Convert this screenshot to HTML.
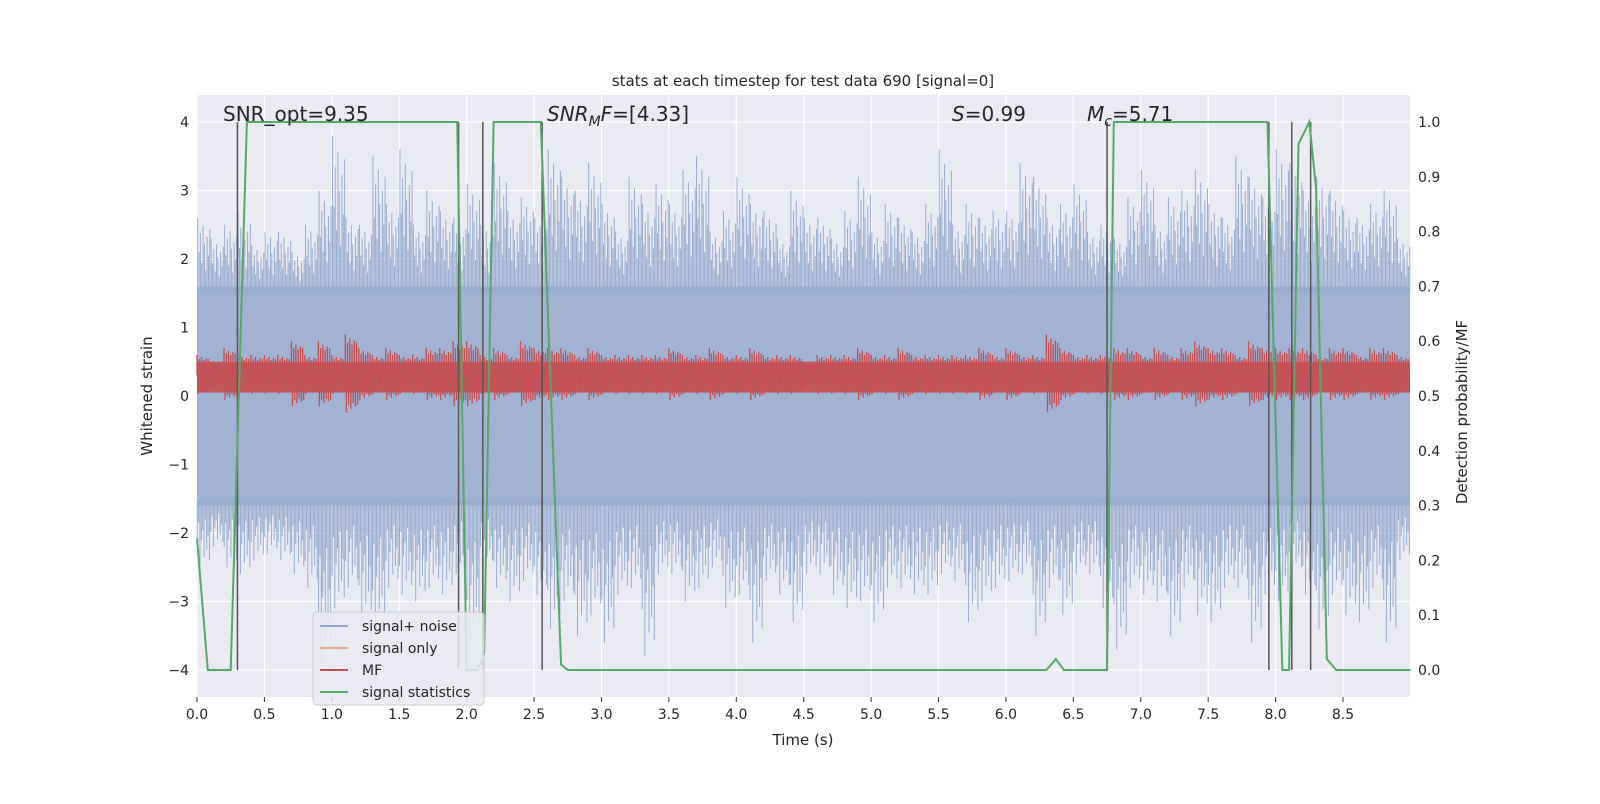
<!DOCTYPE html>
<html><head><meta charset="utf-8"><style>
body{margin:0;background:#fff;font-family:"DejaVu Sans","Liberation Sans",sans-serif}
svg text{font-family:"DejaVu Sans","Liberation Sans",sans-serif;fill:#262626}
</style></head><body>
<svg id="c" width="1600" height="800"></svg>
<script>
const noiseUpper=[2.6,2.3,2.5,2.7,2.2,2.4,2.4,2.1,2.5,3.0,3.8,2.6,2.5,3.5,2.8,3.6,2.5,3.0,2.7,2.6,3.1,2.5,3.4,2.7,2.9,2.6,3.6,3.2,3.0,3.4,2.8,2.4,3.2,2.8,3.1,2.8,3.3,3.5,2.4,2.7,3.2,2.8,2.7,2.3,3.0,2.6,2.6,2.3,2.7,3.2,2.4,2.8,2.6,2.4,2.8,3.6,2.5,2.8,2.6,2.7,2.7,3.4,3.2,2.6,2.8,3.1,2.4,2.5,2.3,2.9,3.3,2.5,2.9,3.0,3.3,2.8,2.6,3.5,3.2,2.9,3.6,3.4,3.0,3.2,3.0,2.7,2.6,2.8,3.0,2.3];
const noiseLower=[-2.5,-2.2,-2.5,-2.6,-2.4,-2.3,-2.4,-2.6,-2.8,-3.9,-3.1,-2.8,-3.3,-3.4,-2.8,-2.9,-3.0,-2.8,-2.9,-2.6,-3.6,-2.5,-2.8,-3.0,-2.7,-2.9,-3.4,-3.0,-3.5,-3.2,-3.6,-2.9,-2.8,-3.8,-2.6,-2.6,-3.0,-2.8,-2.5,-3.1,-2.9,-3.6,-2.7,-2.9,-3.3,-2.6,-2.6,-2.9,-3.1,-3.0,-3.3,-2.8,-2.8,-2.9,-2.9,-2.6,-2.7,-3.3,-3.0,-2.8,-2.7,-2.6,-3.5,-2.8,-3.2,-2.6,-2.6,-3.1,-3.7,-2.8,-2.9,-3.0,-3.5,-2.8,-3.2,-3.3,-2.8,-2.8,-3.6,-2.9,-3.0,-2.6,-2.9,-3.4,-2.9,-3.2,-3.3,-2.8,-3.6,-2.4];
const mfUpper=[0.6,0.5,0.7,0.6,0.6,0.6,0.6,0.8,0.6,0.8,0.6,0.9,0.7,0.6,0.7,0.6,0.6,0.7,0.7,0.8,0.8,0.6,0.7,0.6,0.8,0.7,0.7,0.7,0.6,0.7,0.6,0.6,0.6,0.6,0.6,0.7,0.6,0.6,0.7,0.6,0.6,0.7,0.6,0.6,0.6,0.5,0.6,0.6,0.6,0.7,0.6,0.6,0.7,0.6,0.6,0.6,0.6,0.6,0.7,0.6,0.7,0.6,0.6,0.9,0.7,0.6,0.6,0.6,0.7,0.7,0.6,0.7,0.6,0.7,0.8,0.7,0.7,0.6,0.8,0.7,0.7,0.7,0.7,0.6,0.7,0.7,0.6,0.7,0.7,0.6];
const statT=[0,0.08,0.25,0.37,1.93,2.0,2.08,2.13,2.2,2.55,2.7,2.75,2.9,6.3,6.37,6.43,6.75,6.8,7.94,8.05,8.1,8.17,8.25,8.3,8.38,8.45,9.0];
const statP=[0.24,0,0,1,1,0,0,0.03,1,1,0.01,0,0,0,0.02,0,0,1,1,0,0,0.96,1,0.88,0.02,0,0];
const vlines=[0.30,1.94,2.12,2.56,6.75,7.95,8.12,8.26];
const xTicks=[0,0.5,1,1.5,2,2.5,3,3.5,4,4.5,5,5.5,6,6.5,7,7.5,8,8.5];
const yTicks=[-4,-3,-2,-1,0,1,2,3,4];
const y2Ticks=[0,0.1,0.2,0.3,0.4,0.5,0.6,0.7,0.8,0.9,1.0];

const L=197,R=1410,T=95,B=697;
const X=t=>L+t*(1343-197)/8.5;
const Y=v=>396-v*68.5;
const Y2=p=>670-p*548;
const svg=document.getElementById('c');const NS='http://www.w3.org/2000/svg';
function mk(tag,at,name,parent){const e=document.createElementNS(NS,tag);for(const k in at)e.setAttribute(k,at[k]);


(parent||svg).appendChild(e);return e;}
mk('rect',{x:L,y:T,width:R-L,height:B-T,fill:'#eaeaf2'},'plot-background');
const grid=mk('g',{stroke:'#fff','stroke-width':1.2},'grid');
xTicks.forEach(t=>mk('line',{x1:X(t),x2:X(t),y1:T,y2:B},'x-grid-line',grid));
yTicks.forEach(v=>mk('line',{x1:L,x2:R,y1:Y(v),y2:Y(v)},'y-grid-line',grid));
const ng=mk('g',{stroke:'#8fa5cc','stroke-width':1,opacity:0.9},'noise-series');
mk('rect',{x:L,y:Y(1.6),width:R-L,height:Y(-1.6)-Y(1.6),fill:'#9aadd0',stroke:'none'},'noise-core',ng);
const bw=0.1;
const fu=[1,0.55,0.8,0.4,0.9,0.65,0.3,0.75,0.5,0.85];
const fl=[0.7,0.35,1,0.6,0.45,0.85,0.3,0.75,0.55,0.9];
noiseUpper.forEach((u,i)=>{for(let k=0;k<10;k++){const t=i*bw+k*bw/10+0.005;
mk('line',{x1:X(t),x2:X(t),y1:Y(1.5),y2:Y(1.5+(u-1.5)*fu[k])},'noise-spike-up',ng);}});
noiseLower.forEach((u,i)=>{for(let k=0;k<10;k++){const t=i*bw+k*bw/10+0.002;
mk('line',{x1:X(t),x2:X(t),y1:Y(-1.5),y2:Y(-1.5+(u+1.5)*fl[k])},'noise-spike-down',ng);}});
const mg=mk('g',{stroke:'#c44e52','stroke-width':1.3},'mf-series');
mk('rect',{x:L,y:Y(0.5),width:R-L,height:Y(0.05)-Y(0.5),fill:'#c44e52',stroke:'none',opacity:0.9},'mf-core',mg);
mfUpper.forEach((u,i)=>{for(let k=0;k<6;k++){const t=i*bw+k*bw/6;const f=[1,0.8,0.9,0.75,0.85,0.8][k];
mk('line',{x1:X(t),x2:X(t),y1:Y(0.3),y2:Y(0.3+(u-0.3)*f)},'mf-spike',mg);
mk('line',{x1:X(t+0.008),x2:X(t+0.008),y1:Y(0.3),y2:Y(0.3-(u-0.3)*f*0.9)},'mf-spike',mg);}});
vlines.forEach(t=>mk('line',{x1:X(t),x2:X(t),y1:Y2(1),y2:Y2(0),stroke:'#555','stroke-width':1.5},'marker-line'));
mk('polyline',{points:statT.map((t,i)=>X(t)+','+Y2(statP[i])).join(' '),fill:'none',stroke:'#55a868','stroke-width':2},'signal-statistics-line');
xTicks.forEach(t=>{mk('line',{x1:X(t),x2:X(t),y1:B,y2:B+5,stroke:'#333'},'x-tick');const e=mk('text',{x:X(t),y:B+22,'font-size':14,'text-anchor':'middle'},'x-tick-label');e.textContent=t.toFixed(1);});
yTicks.forEach(v=>{const e=mk('text',{x:L-8,y:Y(v)+5,'font-size':14,'text-anchor':'end'},'y-tick-label');e.textContent=v<0?'\u2212'+(-v):v;});
y2Ticks.forEach(p=>{const e=mk('text',{x:R+8,y:Y2(p)+5,'font-size':14},'y2-tick-label');e.textContent=p.toFixed(1);});
let e=mk('text',{x:803,y:745,'font-size':15,'text-anchor':'middle'},'x-axis-title');e.textContent='Time (s)';
e=mk('text',{x:152,y:396,'font-size':15,'text-anchor':'middle',transform:'rotate(-90 152 396)'},'y-axis-title');e.textContent='Whitened strain';
e=mk('text',{x:1467,y:412,'font-size':15,'text-anchor':'middle',transform:'rotate(-90 1467 412)'},'y2-axis-title');e.textContent='Detection probability/MF';
e=mk('text',{x:803,y:86,'font-size':15,'text-anchor':'middle'},'chart-title');e.textContent='stats at each timestep for test data 690 [signal=0]';
e=mk('text',{x:223,y:121,'font-size':20},'snr-opt-label');e.textContent='SNR_opt=9.35';
e=mk('text',{x:547,y:121,'font-size':20},'snr-mf-label');e.innerHTML='<tspan font-style="italic">SNR</tspan><tspan font-style="italic" font-size="14" dy="5">M</tspan><tspan font-style="italic" dy="-5">F</tspan>=[4.33]';
e=mk('text',{x:952,y:121,'font-size':20},'s-label');e.innerHTML='<tspan font-style="italic">S</tspan>=0.99';
e=mk('text',{x:1087,y:121,'font-size':20},'mc-label');e.innerHTML='<tspan font-style="italic">M</tspan><tspan font-style="italic" font-size="14" dy="5">c</tspan><tspan dy="-5">=5.71</tspan>';
const lg=mk('g',{},'legend');
mk('rect',{x:313,y:612,width:171,height:93,rx:4,fill:'#eaeaf2',stroke:'#ccc','fill-opacity':0.85},'legend-box',lg);
[['signal+ noise','#8fa5cc'],['signal only','#e8a98c'],['MF','#c44e52'],['signal statistics','#55a868']].forEach((d,i)=>{
const y=626+i*22;mk('line',{x1:320,x2:348,y1:y,y2:y,stroke:d[1],'stroke-width':2},'legend-swatch',lg);
const t=mk('text',{x:362,y:y+5,'font-size':14},'legend-label',lg);t.textContent=d[0];});
</script>
</body></html>
